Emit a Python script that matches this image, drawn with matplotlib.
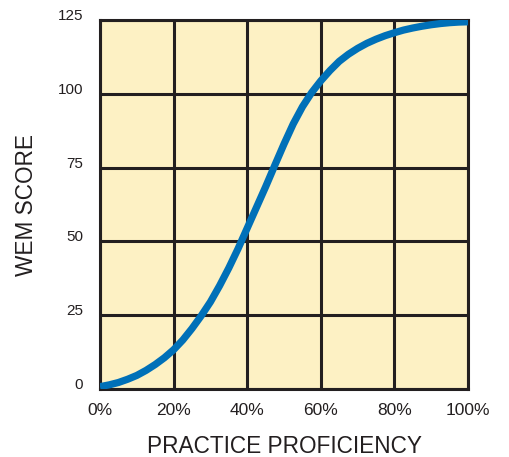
import matplotlib.pyplot as plt

# values (every 2.5 %)
proficiency = [0, 2.5, 5, 7.5, 10, 12.5, 15, 17.5, 20, 22.5, 25, 27.5, 30, 32.5, 35, 37.5,
               40, 42.5, 45, 47.5, 50, 52.5, 55, 57.5, 60, 62.5, 65, 67.5, 70, 72.5, 75,
               77.5, 80, 82.5, 85, 87.5, 90, 92.5, 95, 97.5, 100]
wem_score = [0.8, 1.4, 2.2, 3.3, 4.6, 6.3, 8.3, 10.6, 13.3, 16.6, 20.5, 24.8, 29.5, 35, 41,
             47.5, 54.5, 61.5, 68.5, 75.8, 83, 89.8, 95.6, 100.4, 104.4, 107.9, 111,
             113.4, 115.4, 117.1, 118.5, 119.7, 120.7, 121.6, 122.3, 122.9, 123.4, 123.8,
             124.1, 124.3, 124.4]
x_ticks = [0, 20, 40, 60, 80, 100]
x_labels = ["0%", "20%", "40%", "60%", "80%", "100%"]
y_ticks = [0, 25, 50, 75, 100, 125]

plt.rcParams['font.family'] = ['Liberation Sans', 'DejaVu Sans']
ink = "#231F20"

fig = plt.figure(figsize=(5.09, 4.57), dpi=100)
ax = fig.add_axes([0.1965, 0.1488, 0.723, 0.8074])
ax.set_facecolor("#FDF1C4")

ax.plot(proficiency, wem_score, color="#0070B8", lw=5.2, solid_capstyle="butt",
        solid_joinstyle="round", zorder=3)

ax.set_xlim(0, 100)
ax.set_ylim(0, 125)
ax.set_xticks(x_ticks)
ax.set_xticklabels(x_labels)
ax.set_yticks(y_ticks)
ax.grid(True, color=ink, lw=2.2)
ax.set_axisbelow(True)
for s in ax.spines.values():
    s.set_color(ink)
    s.set_linewidth(2.2)

ax.tick_params(length=0, colors=ink)
ax.tick_params(axis='x', pad=10, labelsize=12.5)
ax.tick_params(axis='y', pad=12, labelsize=11)
for t in ax.get_yticklabels():
    t.set_verticalalignment('baseline')

ax.set_xlabel("PRACTICE PROFICIENCY", fontsize=16.3, color=ink, labelpad=12)
ax.set_ylabel("WEM SCORE", fontsize=16.3, color=ink, labelpad=14)

fig.savefig("out.png", dpi=100)
